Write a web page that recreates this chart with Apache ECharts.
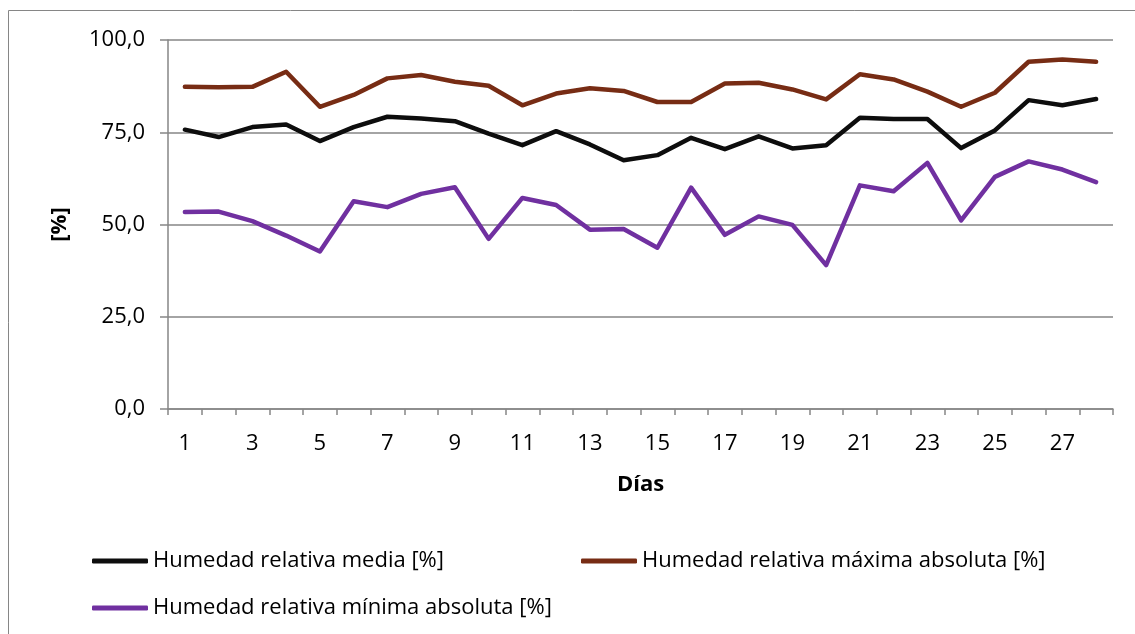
<!DOCTYPE html>
<html>
<head>
    <meta charset="utf-8">
    <title>Humedad relativa</title>
    <script src="https://cdn.jsdelivr.net/npm/echarts@6/dist/echarts.min.js"></script>
    <style type="text/css">
        html, body {
            margin: 0;
            padding: 0;
            background: #fff;
        }
        #main {
            width: 1135px;
            height: 634px;
        }
    </style>
</head>
<body>
<div id="main"></div>
<script type="text/javascript">
    // dias del mes
    var dias = ['1', '2', '3', '4', '5', '6', '7', '8', '9', '10', '11', '12', '13', '14',
        '15', '16', '17', '18', '19', '20', '21', '22', '23', '24', '25', '26', '27', '28'];

    var humMedia = [75.7, 73.7, 76.4, 77.1, 72.6, 76.4, 79.2, 78.7, 78.0, 74.6, 71.5, 75.3, 71.7, 67.4,
        68.8, 73.5, 70.4, 73.9, 70.6, 71.5, 78.9, 78.6, 78.6, 70.7, 75.5, 83.7, 82.3, 84.0];

    var humMaxima = [87.3, 87.2, 87.3, 91.4, 81.9, 85.1, 89.6, 90.5, 88.7, 87.6, 82.3, 85.5, 86.9, 86.2,
        83.2, 83.2, 88.2, 88.4, 86.6, 83.9, 90.7, 89.3, 86.0, 81.9, 85.7, 94.1, 94.7, 94.1];

    var humMinima = [53.4, 53.5, 50.9, 47.0, 42.7, 56.3, 54.7, 58.3, 60.1, 46.1, 57.2, 55.3, 48.6, 48.8,
        43.7, 60.0, 47.2, 52.2, 49.9, 39.0, 60.6, 59.0, 66.7, 51.1, 62.9, 67.1, 64.9, 61.5];

    var yTicks = [0, 25, 50, 75, 100];

    var nomMedia = 'Humedad relativa media [%]';
    var nomMaxima = 'Humedad relativa máxima absoluta [%]';
    var nomMinima = 'Humedad relativa mínima absoluta [%]';

    var fuente = 'Open Sans';
    var tam = 22;
    var gris = '#868686';

    function leyenda(nombre, left, top) {
        return {
            data: [nombre],
            left: left,
            top: top,
            padding: 0,
            icon: 'roundRect',
            itemWidth: 56,
            itemHeight: 5,
            selectedMode: false,
            textStyle: {fontFamily: fuente, fontSize: tam, color: '#000'}
        };
    }

    var option = {
        animation: false,
        graphic: [{
            type: 'rect',
            shape: {x: 8.5, y: 10.5, width: 1140, height: 640},
            style: {fill: 'none', stroke: gris, lineWidth: 1}
        }],
        legend: [
            leyenda(nomMedia, 92, 550),
            leyenda(nomMaxima, 581, 550),
            leyenda(nomMinima, 92, 597)
        ],
        grid: {
            left: 168,
            right: 22,
            top: 40,
            bottom: 225
        },
        xAxis: {
            type: 'category',
            data: dias,
            boundaryGap: true,
            name: 'Días',
            nameLocation: 'middle',
            nameGap: 65,
            nameTextStyle: {fontFamily: fuente, fontSize: tam, fontWeight: 'bold', color: '#000'},
            axisLine: {lineStyle: {color: gris, width: 1.5}},
            axisTick: {show: true, length: 6, alignWithLabel: false, interval: 0, lineStyle: {color: gris, width: 1.5}},
            axisLabel: {interval: 1, margin: 24, fontFamily: fuente, fontSize: tam, color: '#000'},
            splitLine: {show: false}
        },
        yAxis: {
            type: 'value',
            min: yTicks[0],
            max: yTicks[yTicks.length - 1],
            interval: 25,
            name: '[%]',
            nameLocation: 'middle',
            nameGap: 97,
            nameTextStyle: {fontFamily: fuente, fontSize: tam, fontWeight: 'bold', color: '#000'},
            axisLine: {show: true, lineStyle: {color: gris, width: 1.5}},
            axisTick: {show: true, length: 8, lineStyle: {color: gris, width: 1.5}},
            axisLabel: {
                margin: 23,
                fontFamily: fuente,
                fontSize: tam,
                color: '#000',
                formatter: function (v) {
                    return v.toFixed(1).replace('.', ',');
                }
            },
            splitLine: {show: true, lineStyle: {color: gris, width: 1.5}}
        },
        series: [
            {
                name: nomMedia,
                type: 'line',
                data: humMedia,
                symbol: 'none',
                lineStyle: {color: '#0d0d0d', width: 4.5, cap: 'round', join: 'round'},
                itemStyle: {color: '#0d0d0d'}
            },
            {
                name: nomMaxima,
                type: 'line',
                data: humMaxima,
                symbol: 'none',
                lineStyle: {color: '#772c14', width: 4.5, cap: 'round', join: 'round'},
                itemStyle: {color: '#772c14'}
            },
            {
                name: nomMinima,
                type: 'line',
                data: humMinima,
                symbol: 'none',
                lineStyle: {color: '#7030a0', width: 4.5, cap: 'round', join: 'round'},
                itemStyle: {color: '#7030a0'}
            }
        ]
    };

    var grafico = echarts.init(document.getElementById('main'));
    grafico.setOption(option);
</script>
</body>
</html>
